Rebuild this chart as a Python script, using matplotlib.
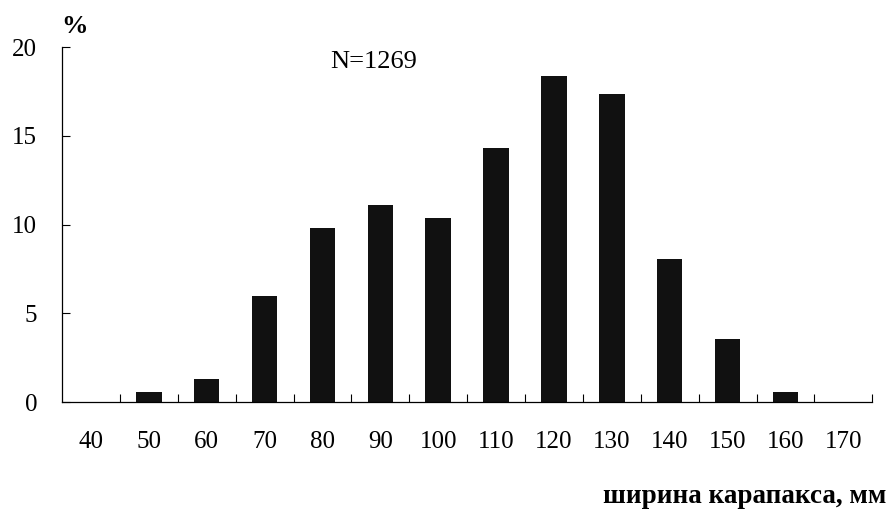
import matplotlib
matplotlib.use("Agg")
import matplotlib.pyplot as plt
import numpy as np

# carapace width classes, mm
widths = [40, 50, 60, 70, 80, 90, 100, 110, 120, 130, 140, 150, 160, 170]
# share of crabs, %
percent = [0, 0.55, 1.3, 6.0, 9.8, 11.1, 10.35, 14.3, 18.35, 17.35, 8.05, 3.55, 0.55, 0]
y_ticks = [0, 5, 10, 15, 20]

plt.rcParams['font.family'] = ['Liberation Serif', 'DejaVu Serif']

fig = plt.figure(figsize=(8.91, 5.15), dpi=100)
ax = fig.add_axes([0.0696, 0.2194, 0.9094, 0.6893])

x = np.arange(len(widths))
ax.bar(x, percent, width=0.44, color='#111111')

ax.set_xlim(-0.5, len(widths) - 0.5)
ax.set_ylim(0, 20)
ax.set_yticks(y_ticks)
ax.set_xticks(x)
ax.set_xticklabels([str(w) for w in widths])
ax.set_xticks(np.arange(len(widths)) + 0.5, minor=True)

ax.tick_params(axis='x', which='major', length=0, pad=21, labelsize=18)
ax.tick_params(axis='x', which='minor', direction='in', length=6, width=0.8)
ax.tick_params(axis='y', direction='in', length=6, width=0.8, pad=18, labelsize=18)

for s in ['top', 'right']:
    ax.spines[s].set_visible(False)
ax.spines['left'].set_linewidth(0.9)
ax.spines['bottom'].set_linewidth(0.9)

ax.text(0.015, 1.058, '%', transform=ax.transAxes, fontsize=19, fontweight='bold',
        ha='center', va='center')
ax.text(0.385, 0.958, 'N=1269', transform=ax.transAxes, fontsize=19, ha='center', va='center')
fig.text(0.995, 0.012, 'ширина карапакса, мм', fontsize=19.5, fontweight='bold',
         ha='right', va='bottom')

fig.savefig('out.png', dpi=100)
